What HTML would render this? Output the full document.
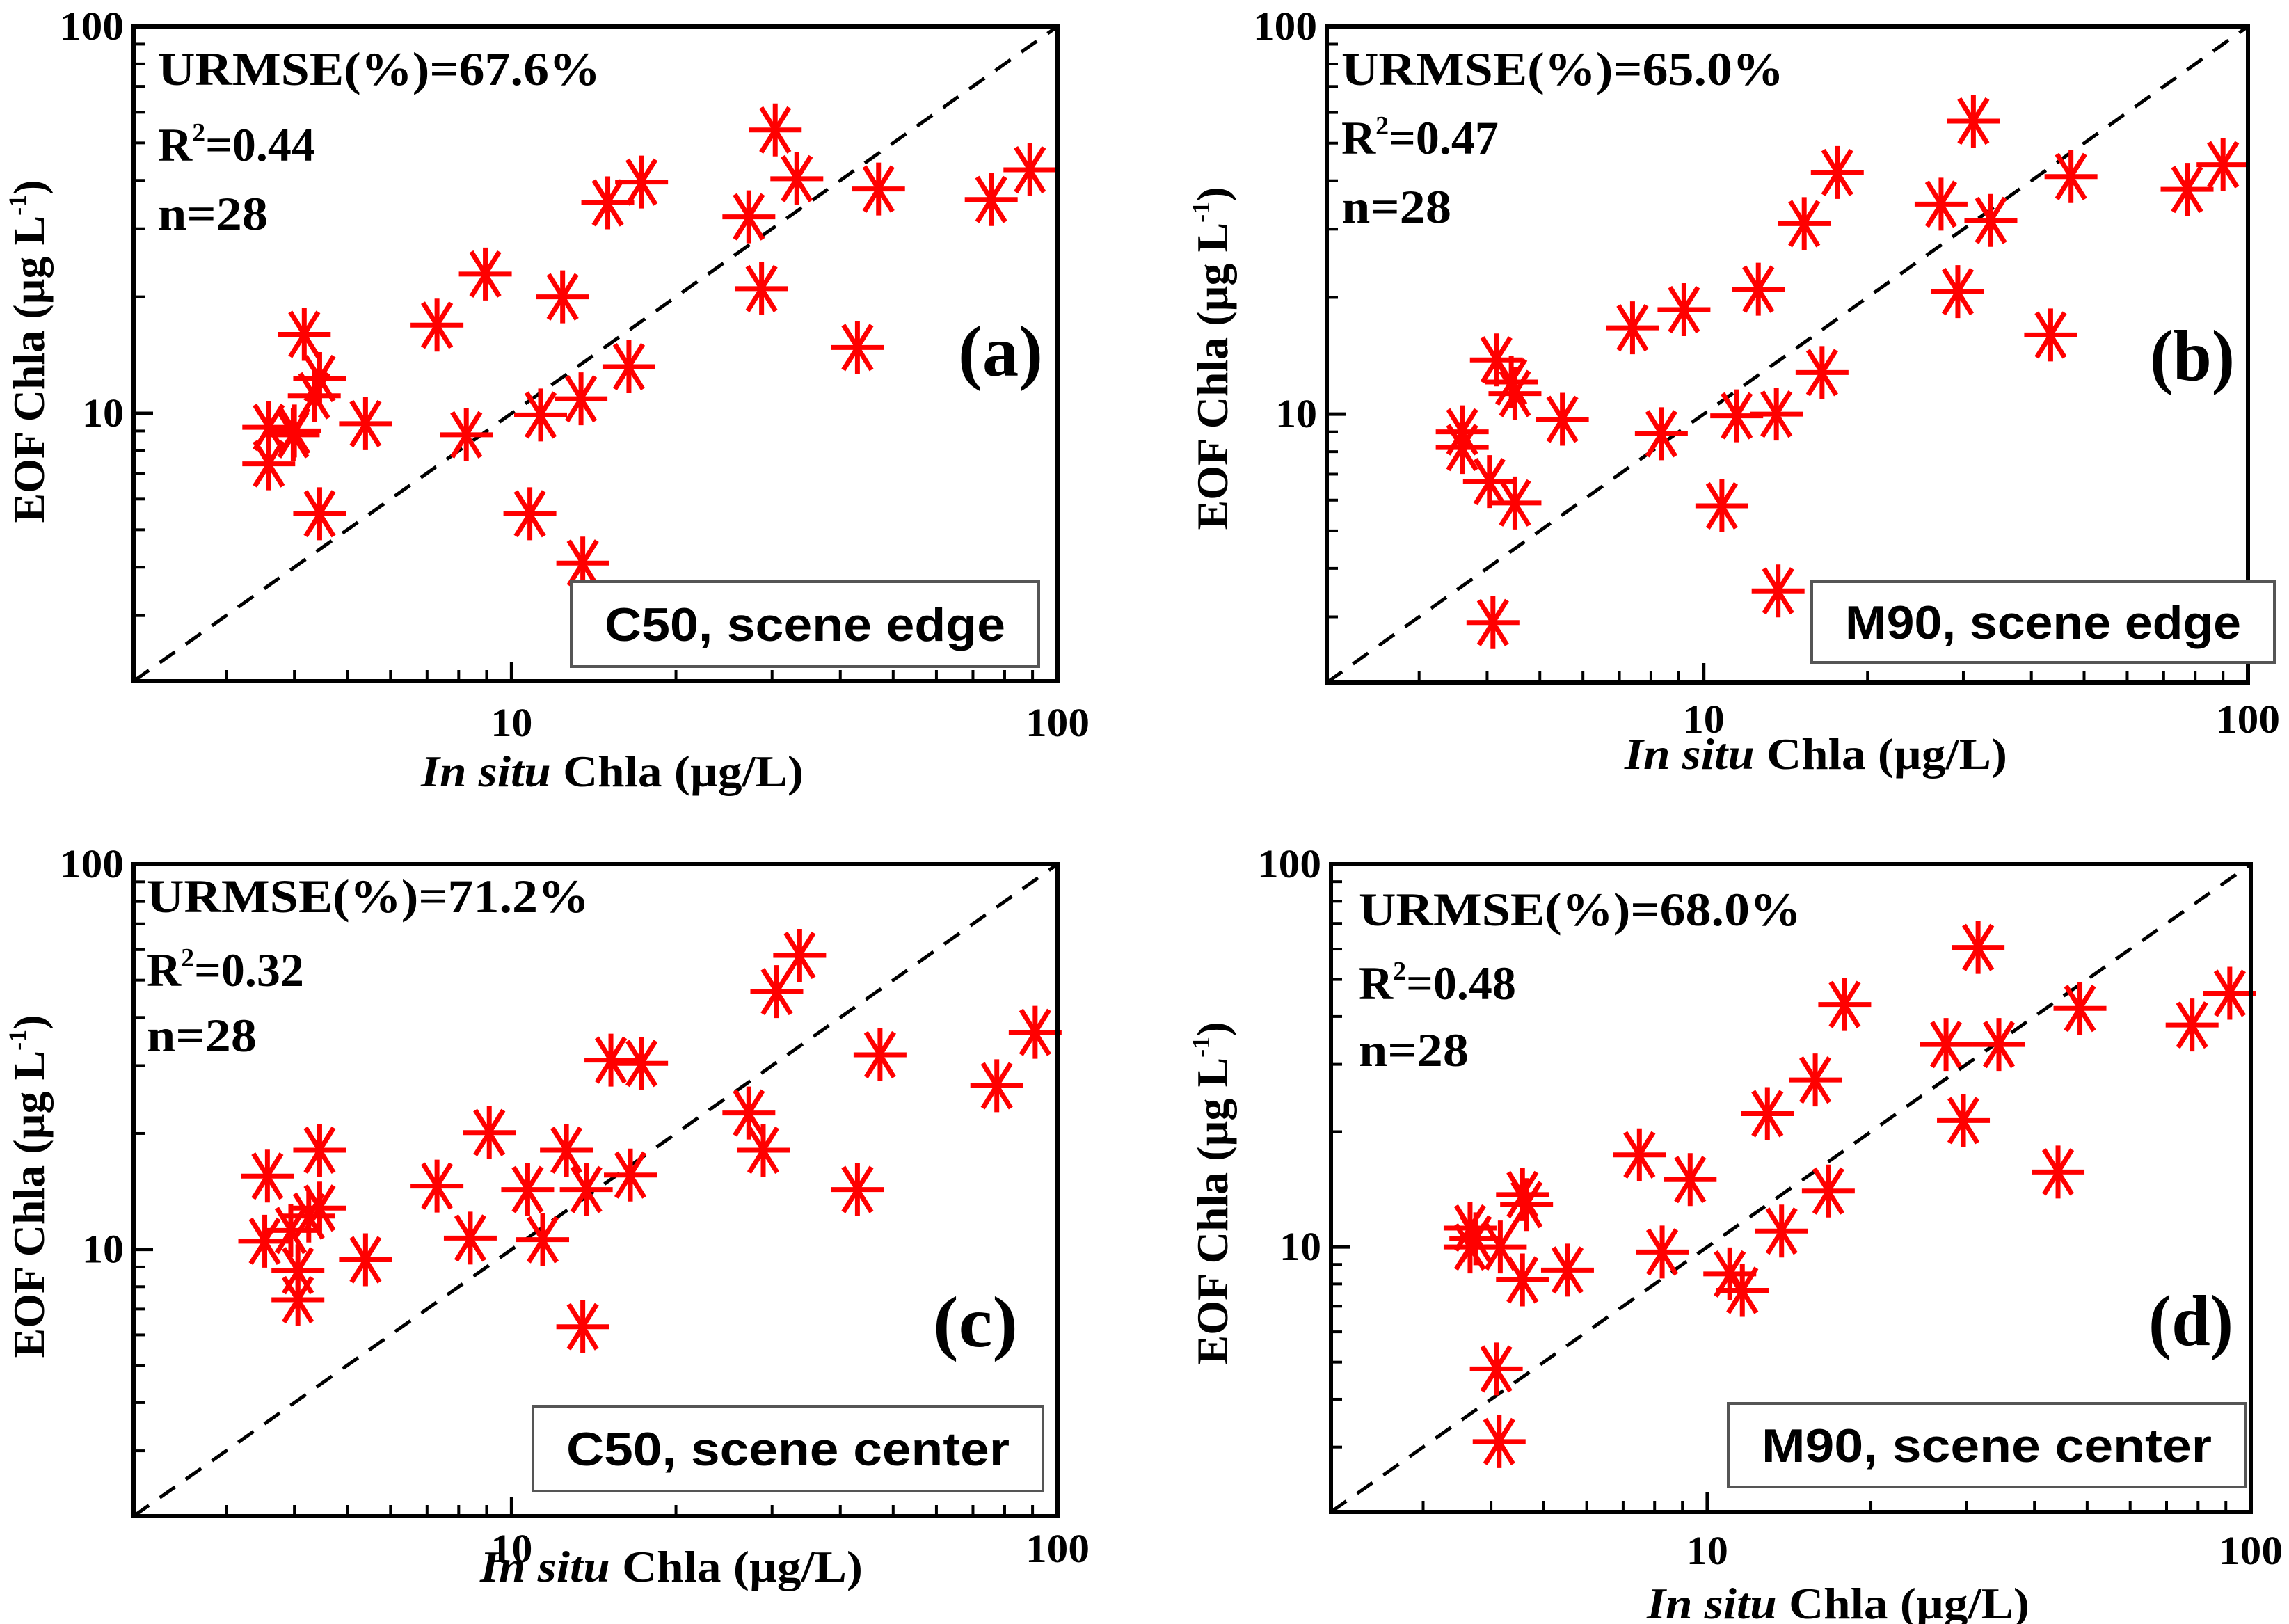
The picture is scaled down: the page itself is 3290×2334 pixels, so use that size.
<!DOCTYPE html>
<html><head><meta charset="utf-8"><style>html,body{margin:0;padding:0;background:#fff}svg{display:block}</style></head>
<body>
<svg id="chart" xmlns="http://www.w3.org/2000/svg" width="3290" height="2334" viewBox="0 0 3290 2334"></svg>
<script>
const xA=[3.59,3.59,3.98,4.17,4.45,4.35,4.45,5.4,7.3,8.95,8.26,10.8,11.3,12.4,13.4,13.5,16.4,15.0,17.3,27.2,28.7,30.4,33.3,47,43,75.6,89,4.0];
const yA=[9.2,7.4,8.8,16,12.3,11.1,5.5,9.4,16.9,22.9,8.8,5.5,9.9,20,10.9,4.1,13.2,35,39.6,32.2,21,54,40.4,38,14.8,35.7,42.6,9.0];
const xB=[3.6,3.6,4.04,4.16,4.43,4.5,4.5,4.1,5.5,7.4,9.2,8.36,10.8,11.5,12.6,13.6,13.7,16.5,15.3,17.6,27.3,29.3,31.3,33.7,47.3,43.4,77.3,90];
const yB=[9.0,8.2,6.7,13.8,12.1,11.3,5.9,2.9,9.7,16.7,18.6,8.9,5.8,9.9,21,10,3.5,12.8,31,42,34.8,20.7,57,31.6,41,16,38,44];
const xC=[3.57,3.53,3.94,4.06,4.06,4.45,4.45,4.25,5.4,7.3,8.4,9.1,10.7,11.4,12.6,13.7,13.5,16.5,15.2,17.3,27.2,28.9,30.6,33.7,47.3,43,77.4,91];
const yC=[15.5,10.5,11.2,8.8,7.4,18.1,12.8,12.2,9.4,14.6,10.7,20.1,14.3,10.6,18.1,14.3,6.3,15.6,31,30.4,22.6,18.1,46.7,58,32,14.3,26.6,36.6];
const xD=[3.66,3.66,4.16,4.57,4.65,4.57,5.53,4.09,4.14,7.5,9.3,8.26,11.0,11.6,12.9,13.7,15.8,16.7,17.9,27.5,29.6,31.5,34.4,48.5,44.2,78,91.5,3.75];
const yD=[11.2,10,10,13.7,12.9,8.2,8.7,4.8,3.1,17.4,15,9.7,8.5,7.7,22.3,11,27.3,14,43,33.8,21.4,60.6,33.8,42,15.7,38,46,10.5];
const statsA=["URMSE(%)=67.6%","0.44","n=28"];
const statsB=["URMSE(%)=65.0%","0.47","n=28"];
const statsC=["URMSE(%)=71.2%","0.32","n=28"];
const statsD=["URMSE(%)=68.0%","0.48","n=28"];
const majorTicks=[10,100];
const minorTicks=[2,3,4,5,6,7,8,9,20,30,40,50,60,70,80,90];
const domain=[2.03,100];

const NS="http://www.w3.org/2000/svg";
const svg=document.getElementById('chart');
function mk(tag,attrs,parent,text){const e=document.createElementNS(NS,tag);for(const k in attrs)e.setAttribute(k,attrs[k]);if(text!==undefined)e.textContent=text;(parent||svg).appendChild(e);return e;}
const serif='"Liberation Serif", serif', sans='"Liberation Sans", sans-serif';

const panels=[
 {id:'a',x0:192,x1:1520,y0:38,y1:979,xs:xA,ys:yA,st:statsA,label:'C50, scene edge',lb:[821,836,672,122],tx:227,ty:[122,231,330],pl:[1438,540],yt:[63,505],xt:[880,1130],xtl:1058},
 {id:'b',x0:1907,x1:3231,y0:38,y1:981,xs:xB,ys:yB,st:statsB,label:'M90, scene edge',lb:[2604,836,665,116],tx:1928,ty:[122,221,320],pl:[3151,546],yt:[1764,515],xt:[2610,1105],xtl:1053},
 {id:'c',x0:192,x1:1520,y0:1242,y1:2179,xs:xC,ys:yC,st:statsC,label:'C50, scene center',lb:[766,2021,733,122],tx:211,ty:[1311,1417,1511],pl:[1402,1935],yt:[63,1705],xt:[965,2273],xtl:2245},
 {id:'d',x0:1913,x1:3235,y0:1242,y1:2173,xs:xD,ys:yD,st:statsD,label:'M90, scene center',lb:[2484,2017,743,120],tx:1953,ty:[1330,1436,1532],pl:[3149,1933],yt:[1764,1715],xt:[2642,2326],xtl:2248}
];

panels.forEach(p=>{
 const g=mk('g',{},svg);
 
 
 const lg=v=>Math.log10(v);
 const sx=v=>p.x0+(lg(v)-lg(domain[0]))/(lg(domain[1])-lg(domain[0]))*(p.x1-p.x0);
 const sy=v=>p.y1-(lg(v)-lg(domain[0]))/(lg(domain[1])-lg(domain[0]))*(p.y1-p.y0);
 majorTicks.forEach(t=>{
  const tx=mk('line',{x1:sx(t),x2:sx(t),y1:p.y1,y2:p.y1-28,stroke:'#000','stroke-width':5},g);
  
  
  const ty=mk('line',{x1:p.x0,x2:p.x0+28,y1:sy(t),y2:sy(t),stroke:'#000','stroke-width':5},g);
  
  
  const xl=mk('text',{x:sx(t),y:p.xtl,'text-anchor':'middle','font-family':serif,'font-weight':'bold','font-size':58,textLength:t==100?92:60,lengthAdjust:'spacingAndGlyphs'},g,String(t));
  
  
  const yl=mk('text',{x:p.x0-14,y:sy(t)+19,'text-anchor':'end','font-family':serif,'font-weight':'bold','font-size':58,textLength:t==100?92:60,lengthAdjust:'spacingAndGlyphs'},g,String(t));
  
  
 });
 minorTicks.forEach(t=>{
  if(t<domain[0]||t>domain[1])return;
  const tx=mk('line',{x1:sx(t),x2:sx(t),y1:p.y1,y2:p.y1-16,stroke:'#000','stroke-width':4},g);
  
  
  const ty=mk('line',{x1:p.x0,x2:p.x0+16,y1:sy(t),y2:sy(t),stroke:'#000','stroke-width':4},g);
  
  
 });
 const dl=mk('line',{x1:sx(domain[0]),y1:sy(domain[0]),x2:sx(100),y2:sy(100),stroke:'#000','stroke-width':5,'stroke-dasharray':'27 19'},g);
 
 
 p.xs.forEach((xv,i)=>{
  const cx=sx(xv),cy=sy(p.ys[i]),r=38;
  const s=mk('g',{stroke:'#ff0000','stroke-width':7,'stroke-linecap':'butt'},g);
  
  
  [0,90,58,122].forEach(a=>{const rad=a*Math.PI/180,dx=r*Math.cos(rad),dy=r*Math.sin(rad);mk('line',{x1:cx-dx,y1:cy-dy,x2:cx+dx,y2:cy+dy},s);});
 });
 const fr=mk('rect',{x:p.x0,y:p.y0,width:p.x1-p.x0,height:p.y1-p.y0,fill:'none',stroke:'#000','stroke-width':6},g);
 
 
 const t1=mk('text',{x:p.tx,y:p.ty[0],'font-family':serif,'font-weight':'bold','font-size':68,textLength:636,lengthAdjust:'spacingAndGlyphs'},g,p.st[0]);
 
 
 const t2=mk('text',{x:p.tx,y:p.ty[1],'font-family':serif,'font-weight':'bold','font-size':68},g);
 
 
 mk('tspan',{},t2,'R');
 mk('tspan',{'font-size':38,dy:-28},t2,'2');
 mk('tspan',{dy:28},t2,'='+p.st[1]);
 const t3=mk('text',{x:p.tx,y:p.ty[2],'font-family':serif,'font-weight':'bold','font-size':68,textLength:158,lengthAdjust:'spacingAndGlyphs'},g,p.st[2]);
 
 
 const pl=mk('text',{x:p.pl[0],y:p.pl[1],'text-anchor':'middle','font-family':serif,'font-weight':'bold','font-size':104,textLength:122,lengthAdjust:'spacingAndGlyphs'},g,'('+p.id+')');
 
 
 const lb=mk('rect',{x:p.lb[0],y:p.lb[1],width:p.lb[2],height:p.lb[3],fill:'#fff',stroke:'#555','stroke-width':4},g);
 
 
 const lt=mk('text',{x:p.lb[0]+p.lb[2]/2,y:p.lb[1]+p.lb[3]/2+24,'text-anchor':'middle','font-family':sans,'font-weight':'bold','font-size':68,textLength:p.lb[2]-96,lengthAdjust:'spacingAndGlyphs'},g,p.label);
 
 
 const yt=mk('text',{x:0,y:0,transform:`translate(${p.yt[0]},${p.yt[1]}) rotate(-90)`,'text-anchor':'middle','font-family':serif,'font-weight':'bold','font-size':64},g);
 
 
 mk('tspan',{},yt,'EOF Chla (µg L');
 mk('tspan',{'font-size':36,dy:-26},yt,'-1');
 mk('tspan',{dy:26},yt,')');
 const xt=mk('text',{x:p.xt[0],y:p.xt[1],'text-anchor':'middle','font-family':serif,'font-weight':'bold','font-size':64,textLength:550,lengthAdjust:'spacingAndGlyphs'},g);
 
 
 mk('tspan',{'font-style':'italic'},xt,'In situ');
 mk('tspan',{},xt,' Chla (µg/L)');
});
</script>
</body></html>
